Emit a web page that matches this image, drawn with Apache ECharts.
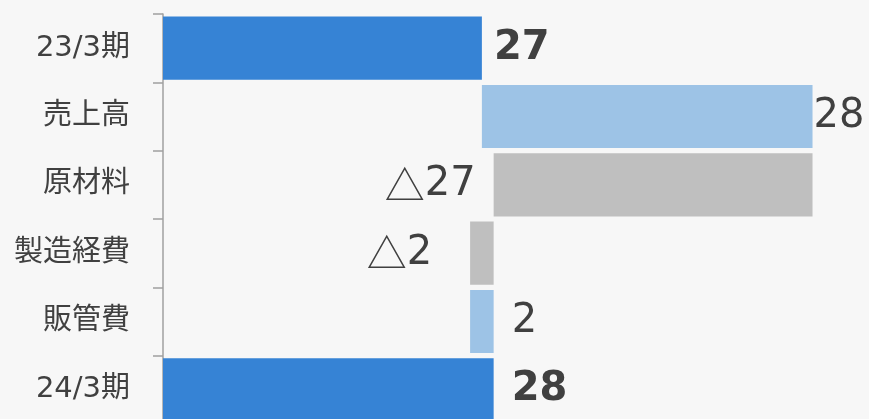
<!DOCTYPE html>
<html>
<head>
<meta charset="utf-8">
<script src="https://cdn.jsdelivr.net/npm/echarts@6/dist/echarts.min.js"></script>
<style>
  html, body { margin: 0; padding: 0; background: #f7f7f7; }
  #chart { width: 869px; height: 419px; }
</style>
</head>
<body>
<div id="chart"></div>
<script>
const categories = ["23/3期", "売上高", "原材料", "製造経費", "販管費", "24/3期"];
const deltas = [27.1, 28.1, -27.1, -2.0, 2.0, 28.1];
const kinds = ["total", "up", "down", "down", "up", "total"];
const valueLabels = ["27", "28", "{t|△}27", "{t|△}2", "2", "28"];

const colors = { total: "#3683d5", up: "#9dc3e6", down: "#bfbfbf" };
const labelGap = [12, 1, 18, 38, 18, 18];
const font = "DejaVu Sans, Noto Sans CJK JP, sans-serif";

// build invisible base + visible bar for each step
const base = [];
const bars = [];
let running = 0;
for (let i = 0; i < deltas.length; i++) {
  const k = kinds[i];
  let start, len;
  if (k === "total") {
    start = 0;
    len = deltas[i];
    running = deltas[i];
  } else if (k === "up") {
    start = running;
    len = deltas[i];
    running += deltas[i];
  } else {
    running += deltas[i];
    start = running;
    len = -deltas[i];
  }
  base.push(start);
  bars.push({
    value: len,
    itemStyle: { color: colors[k] },
    label: {
      position: k === "down" ? "left" : "right",
      distance: labelGap[i],
      fontWeight: k === "total" ? "bold" : "normal",
      formatter: valueLabels[i],
    },
  });
}

const chart = echarts.init(document.getElementById("chart"));
chart.setOption({
  backgroundColor: "#f7f7f7",
  animation: false,
  grid: { left: 163, right: 0, top: 14, height: 410, outerBoundsMode: "none", containLabel: false },
  xAxis: {
    type: "value",
    min: 0,
    max: 60,
    show: false,
  },
  yAxis: {
    type: "category",
    inverse: true,
    data: categories,
    axisLine: { show: true, lineStyle: { color: "#a0a0a0", width: 1.5 } },
    axisTick: { show: true, length: 10, lineStyle: { color: "#a0a0a0", width: 1.5 } },
    axisLabel: {
      margin: 33,
      fontSize: 29,
      color: "#404040",
      fontFamily: font,
    },
  },
  series: [
    {
      type: "bar",
      stack: "w",
      data: base,
      itemStyle: { color: "transparent" },
      barCategoryGap: "7.5%",
      silent: true,
    },
    {
      type: "bar",
      stack: "w",
      data: bars,
      barCategoryGap: "7.5%",
      label: {
        show: true,
        fontSize: 40,
        color: "#404040",
        fontFamily: font,
        rich: {
          t: { fontSize: 40, color: "#404040", fontFamily: "Noto Sans CJK JP" },
        },
      },
    },
  ],
});
</script>
</body>
</html>
